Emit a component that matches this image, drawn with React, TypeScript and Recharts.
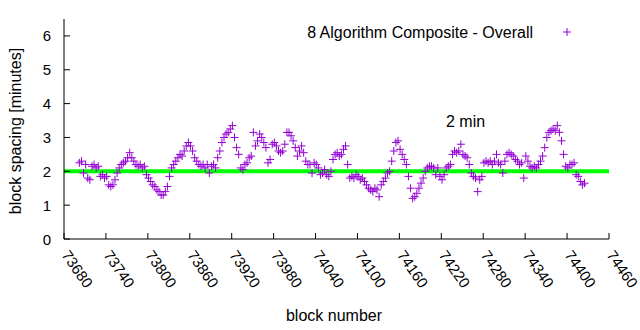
import {
  ReferenceLine,
  Scatter,
  ScatterChart,
  XAxis,
  YAxis,
} from "recharts";

// block spacing in minutes, one reading every BLOCK_STEP blocks from FIRST_BLOCK
const FIRST_BLOCK = 73702;
const BLOCK_STEP = 3;
const spacing = [
  2.25, 2.3, 1.95, 2.2, 1.8, 1.75, 2.15, 2.2, 2.1, 2.15,
  1.85, 1.9, 1.8, 1.85, 1.6, 1.55, 1.6, 1.75, 1.95, 2.1,
  2.2, 2.25, 2.3, 2.4, 2.55, 2.4, 2.3, 2.2, 2.15, 2.2,
  2.1, 2.15, 1.9, 1.8, 1.7, 1.6, 1.55, 1.45, 1.4, 1.3,
  1.3, 1.4, 1.55, 1.85, 2.1, 2.2, 2.3, 2.4, 2.5, 2.45,
  2.6, 2.75, 2.85, 2.75, 2.6, 2.4, 2.3, 2.2, 2.15, 2.2,
  2.1, 2.2, 1.95, 2.15, 2.2, 2.1, 2.4, 2.6, 2.85, 3.0,
  3.1, 3.15, 3.25, 3.35, 3.0, 2.7, 2.5, 2.1, 2.05, 2.2,
  2.25, 2.4, 2.45, 3.15, 2.75, 2.9, 3.1, 3.0, 2.85, 2.7,
  2.25, 2.35, 2.8, 2.85, 2.75, 2.6, 2.55, 2.6, 2.8, 3.15,
  3.15, 3.05, 2.9, 2.7, 2.45, 2.6, 2.75, 2.55, 2.3, 2.2,
  2.2, 1.95, 2.25, 2.2, 2.1, 1.9, 1.95, 2.05, 1.9, 1.85,
  2.0, 2.35, 2.5, 2.55, 2.45, 2.5, 2.65, 2.75, 2.2, 1.8,
  1.85, 1.8, 1.9, 1.85, 1.75, 1.8, 1.7, 1.6, 1.5, 1.45,
  1.4, 1.5, 1.45, 1.25, 1.6, 1.7, 1.8, 1.95, 2.0, 2.3,
  2.6, 2.85, 2.9, 2.65, 2.5, 2.35, 2.2, 1.85, 1.5, 1.2,
  1.25, 1.35, 1.5, 1.65, 1.8, 2.0, 2.1, 2.15, 2.15, 2.1,
  1.9, 2.1, 1.85, 1.75, 1.9, 2.1, 2.15, 2.2, 2.5, 2.6,
  2.55, 2.6, 2.8, 2.5, 2.45, 2.4, 2.2, 1.95, 1.85, 1.8,
  1.4, 1.75, 1.85, 2.25, 2.3, 2.25, 2.3, 2.2, 2.3, 2.5,
  2.25, 2.2, 1.95, 2.3, 2.5, 2.55, 2.5, 2.45, 2.35, 2.3,
  2.2, 2.25, 1.8, 2.45, 2.3, 2.15, 2.1, 2.15, 2.1, 2.2,
  2.3, 2.45, 2.7, 3.0, 3.15, 3.2, 3.25, 3.2, 3.35, 3.15,
  2.9, 2.5, 2.15, 2.1, 2.2, 2.2, 2.25, 1.9, 1.85, 1.7,
  1.6, 1.65,
];

const xTicks = [
  73680, 73740, 73800, 73860, 73920, 73980, 74040, 74100, 74160, 74220,
  74280, 74340, 74400, 74460,
];
const yTicks = [0, 1, 2, 3, 4, 5, 6];
const TARGET_MINUTES = 2;

const data = spacing.map((minutes, i) => ({
  block: FIRST_BLOCK + i * BLOCK_STEP,
  minutes,
}));

const FONT = '"Liberation Sans", Arial, Helvetica, sans-serif';
const PURPLE = "#9400d3";
const W = 640;
const H = 330;

function Plus({ cx, cy }: { cx?: number; cy?: number }) {
  if (cx == null || cy == null) return null;
  return (
    <g stroke={PURPLE} strokeWidth={1}>
      <line x1={cx - 4} y1={cy} x2={cx + 4} y2={cy} />
      <line x1={cx} y1={cy - 4} x2={cx} y2={cy + 4} />
    </g>
  );
}

function BottomTick({ x, y, payload }: any) {
  const ax = x - 3;
  const ay = y + 16;
  return (
    <g>
      <line x1={x} y1={y} x2={x} y2={y - 6} stroke="#000" />
      <text
        x={ax}
        y={ay}
        transform={`rotate(55, ${ax}, ${ay})`}
        fontSize={15}
        fontFamily={FONT}
        fill="#000"
        textAnchor="start"
      >
        {payload.value}
      </text>
    </g>
  );
}

function TopTick({ x, y }: any) {
  return <line x1={x} y1={y} x2={x} y2={y + 6} stroke="#000" />;
}

function LeftTick({ x, y, payload }: any) {
  return (
    <g>
      <line x1={x} y1={y} x2={x + 6} y2={y} stroke="#000" />
      <text
        x={x - 13}
        y={y + 5.5}
        fontSize={15}
        fontFamily={FONT}
        fill="#000"
        textAnchor="end"
      >
        {payload.value}
      </text>
    </g>
  );
}

function RightTick({ x, y }: any) {
  return <line x1={x} y1={y} x2={x - 6} y2={y} stroke="#000" />;
}

export default function App() {
  return (
    <div style={styles.wrap}>
      <ScatterChart
        width={W}
        height={H}
        margin={{ top: 19, right: 31, bottom: 0, left: 0 }}
        style={{ background: "#fff" }}
      >
        <XAxis
          xAxisId="b"
          dataKey="block"
          type="number"
          domain={[73680, 74460]}
          ticks={xTicks}
          interval={0}
          allowDataOverflow
          height={91}
          tickSize={0}
          tickMargin={0}
          tickLine={false}
          axisLine={{ stroke: "#000" }}
          tick={<BottomTick />}
        />
        <XAxis
          xAxisId="t"
          orientation="top"
          type="number"
          domain={[73680, 74460]}
          ticks={xTicks}
          interval={0}
          allowDataOverflow
          height={0}
          tickSize={0}
          tickMargin={0}
          tickLine={false}
          axisLine={{ stroke: "#000" }}
          tick={<TopTick />}
        />
        <YAxis
          yAxisId="l"
          dataKey="minutes"
          type="number"
          domain={[0, 6.5]}
          ticks={yTicks}
          interval={0}
          allowDataOverflow
          width={64}
          tickSize={0}
          tickMargin={0}
          tickLine={false}
          axisLine={{ stroke: "#000" }}
          tick={<LeftTick />}
        />
        <YAxis
          yAxisId="r"
          orientation="right"
          type="number"
          domain={[0, 6.5]}
          ticks={yTicks}
          interval={0}
          allowDataOverflow
          width={0}
          tickSize={0}
          tickMargin={0}
          tickLine={false}
          axisLine={{ stroke: "#000" }}
          tick={<RightTick />}
        />
        <Scatter
          xAxisId="b"
          yAxisId="l"
          data={data}
          shape={Plus}
          isAnimationActive={false}
        />
        <ReferenceLine
          xAxisId="b"
          yAxisId="l"
          y={TARGET_MINUTES}
          stroke="#00ff00"
          strokeWidth={4}
        />
      </ScatterChart>
      <svg width={W} height={H} style={styles.overlay}>
        <g fontFamily={FONT} fontSize={16} fill="#000">
          <text x={533} y={38} textAnchor="end">
            8 Algorithm Composite - Overall
          </text>
          <text x={446} y={127}>
            2 min
          </text>
          <text x={334} y={321} textAnchor="middle">
            block number
          </text>
          <text
            x={21}
            y={131}
            textAnchor="middle"
            transform="rotate(-90, 21, 131)"
          >
            block spacing [minutes]
          </text>
        </g>
        <Plus cx={567} cy={32} />
      </svg>
    </div>
  );
}

const styles: Record<string, React.CSSProperties> = {
  wrap: {
    position: "absolute",
    left: 0,
    top: 0,
    width: W,
    height: H,
    background: "#fff",
  },
  overlay: {
    position: "absolute",
    left: 0,
    top: 0,
    pointerEvents: "none",
  },
};
